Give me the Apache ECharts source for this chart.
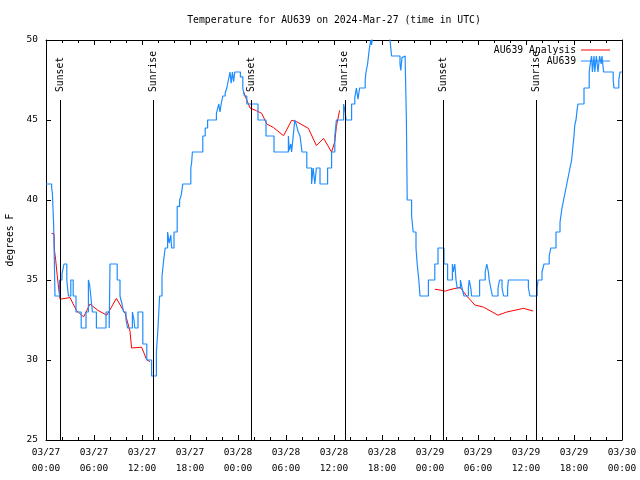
<!DOCTYPE html>
<html><head><meta charset="utf-8">
<script src="https://cdn.jsdelivr.net/npm/echarts@6/dist/echarts.min.js"></script>
<style>html,body{margin:0;padding:0;background:#fff}#c{width:640px;height:480px}</style>
</head><body><div id="c"></div>
<script>
const titleText = 'Temperature for AU639 on 2024-Mar-27 (time in UTC)';
const yName = 'degrees F';
const dayLabels = ['03/27','03/28','03/29','03/30'];
const hourLabels = ['00:00','06:00','12:00','18:00'];
const seriesNames = ['AU639 Analysis','AU639'];

// Sunrise / sunset (hours since 03/27 00:00 UTC)
const sunHours = [1.83, 13.4, 25.7, 37.35, 49.67, 61.3];
const sunNames = ['Sunset','Sunrise','Sunset','Sunrise','Sunset','Sunrise'];

// AU639 Analysis (hours, degrees F); null breaks segments
const anaHours = [0.7,1.0,1.05,1.2,1.4,1.6,1.75,3.0,3.8,4.7,5.5,6.5,7.6,8.8,9.9,10.5,10.7,11.95,12.6,13.0,
  null,
  24.7,25.5,25.7,26.3,26.96,27.6,28.4,29.7,30.7,31.3,32.8,33.8,34.7,35.7,36.1,36.3,36.7,
  null,
  48.6,49.25,49.9,50.5,51.75,52.6,53.6,54.7,55.5,56.5,57.6,59.7,60.9];
const anaTemps = [37.9,37.9,36.9,36.3,35.3,34.4,33.8,33.9,33.1,32.7,33.5,33.1,32.8,33.85,32.9,31.8,30.75,30.8,30.0,29.9,
  null,
  46.75,45.75,45.67,45.58,45.42,44.75,44.54,44.02,44.98,44.9,44.48,43.4,43.85,43.0,43.65,44.6,45.6,
  null,
  34.42,34.375,34.3,34.4,34.54,34.0,33.44,33.3,33.08,32.8,33.0,33.23,33.06];

// AU639 observations (hours, degrees F), each value holds until the next one
const obsHours = [0,0.7,0.8,0.95,1.05,1.12,1.7,2.0,2.25,2.6,2.8,3.1,3.4,3.75,4.4,5.0,5.3,5.45,5.6,5.8,6.3,7.5,7.9,8.0,8.9,9.25,9.5,9.7,10.0,10.2,10.8,11.0,11.1,11.5,12.1,12.6,13.2,13.8,14.0,14.2,14.5,14.7,14.9,15.2,15.4,15.6,15.7,16.0,16.4,16.7,16.9,17.1,18.1,18.2,18.3,19.6,19.9,20.2,21.3,21.5,21.6,21.75,21.9,22.1,22.4,22.6,22.8,23.0,23.15,23.3,23.45,23.6,24.3,24.6,24.8,25.1,26.5,27.5,28.5,30.3,30.4,30.6,30.7,30.9,31.1,31.3,31.5,31.75,32.0,32.6,33.2,33.4,33.6,33.8,34.25,35.2,35.7,36.1,36.3,37.2,37.4,37.5,38.2,38.6,38.8,39.0,39.2,39.9,40.0,40.2,40.4,40.6,40.7,40.9,41.1,43.0,43.2,44.25,44.35,44.5,44.6,44.9,45.05,45.15,45.7,45.9,46.25,46.4,46.6,46.75,47.8,48.6,49.0,49.75,50.2,50.8,50.9,51.1,51.25,51.4,51.8,52.0,52.25,52.8,52.9,53.1,53.2,54.2,54.9,55.1,55.3,55.4,55.6,55.8,56.5,56.7,57.0,57.2,57.7,57.8,60.3,60.5,61.4,61.5,62.0,62.25,62.9,63.1,63.75,64.25,64.5,64.7,64.9,65.1,65.3,65.5,65.7,65.8,66.0,66.1,66.25,66.4,66.5,67.25,67.9,68.05,68.2,68.3,68.5,68.6,68.8,69.0,69.2,69.4,69.5,69.7,70.9,71.0,71.6,71.75,72];
const obsTemps = [41,40.8,40.4,38.5,36,34,35,35.4,36,35,34,35,34,33,32,33,35,34.7,34,33,32,33,32,36,35,34,33.5,33,32.5,32,33,32.5,32,33,31,30,29,30.5,32,34,35.2,36.2,37,38,37.3,37.8,37,38,39.6,40,40.3,41,42,42.3,43,44,44.5,45,45.4,45.8,46,45.5,46,46.5,46.7,47,47.5,48,47.3,48,47.4,48,47.7,47,46.5,46,45,44,43,44,43.1,43.5,43,44,45,44.7,44.3,44,43,42,41,42,41,42,41,42,43,44,45,46,45.5,45,46,46.4,47,46.3,47,47.5,48,48.5,49.4,50,49.7,50.5,51,50,49,48.5,48.1,48.9,49,48.7,45,40,39,38,37,36,35,34,35,36,37,36,35,36,35.5,36,35,34.5,35,34.5,34,34.5,35,34.5,34,35,35.5,36,35.5,35,34.5,34,34.5,35,34.5,34,34.5,35,34.5,34,34.5,35,35.5,36,36.5,37,38,38.6,39.5,40,40.5,41,41.5,42,42.5,43,44,44.7,45,45.7,46,47,48,48.6,49,48,49,48,49,48,49,48.5,49,48,47.5,47,47.5,48,48];

const FONT = 'DejaVu Sans Mono';
const RED = '#ff0000';
const BLUE = '#1e8cff';

const anaData = anaHours.map((h, i) => (h === null ? '-' : [h, anaTemps[i]]));
const obsData = obsHours.map((h, i) => [h, obsTemps[i]]);

const axisCommon = {
  type: 'value',
  axisLine: { show: true, onZero: false, lineStyle: { color: '#000', width: 1 } },
  splitLine: { show: false },
};

const chart = echarts.init(document.getElementById('c'), null, { renderer: 'canvas' });
chart.setOption({
  animation: false,
  backgroundColor: '#fff',
  grid: { left: 46, right: 18, top: 40, bottom: 40, containLabel: false, outerBoundsMode: 'none' },
  graphic: [{
    type: 'text',
    style: { text: titleText, x: 334, y: 20, textAlign: 'center', textVerticalAlign: 'middle',
      font: '9.75px "' + FONT + '"', fill: '#000' }
  }],
  legend: [
    { data: [{ name: seriesNames[0], icon: 'rect' }], right: 30, top: 45, padding: 0, align: 'right',
      itemWidth: 29, itemHeight: 1, selectedMode: false,
      textStyle: { fontFamily: FONT, fontSize: 9.75, color: '#000' } },
    { data: [{ name: seriesNames[1], icon: 'rect' }], right: 30, top: 56, padding: 0, align: 'right',
      itemWidth: 29, itemHeight: 1, selectedMode: false,
      textStyle: { fontFamily: FONT, fontSize: 9.75, color: '#000' } }
  ],
  xAxis: [
    Object.assign({}, axisCommon, {
      position: 'bottom', min: 0, max: 72, interval: 6,
      axisTick: { show: true, inside: true, length: 5, lineStyle: { color: '#000' } },
      minorTick: { show: true, splitNumber: 3, length: 3, lineStyle: { color: '#000' } },
      axisLabel: {
        margin: 5, fontFamily: FONT, fontSize: 9.5, color: '#000', lineHeight: 16,
        formatter: v => dayLabels[Math.floor(v / 24)] + '\n' + hourLabels[(v % 24) / 6]
      }
    }),
    Object.assign({}, axisCommon, {
      position: 'top', min: 0, max: 72, interval: 6,
      axisTick: { show: true, inside: true, length: 5, lineStyle: { color: '#000' } },
      minorTick: { show: true, splitNumber: 3, length: 3, lineStyle: { color: '#000' } },
      axisLabel: { show: false }
    })
  ],
  yAxis: [
    Object.assign({}, axisCommon, {
      position: 'left', min: 25, max: 50, interval: 5,
      axisTick: { show: true, inside: true, length: 5, lineStyle: { color: '#000' } },
      axisLabel: { margin: 8, fontFamily: FONT, fontSize: 9.5, color: '#000' },
      name: yName, nameLocation: 'middle', nameGap: 31, nameRotate: 90,
      nameTextStyle: { fontFamily: FONT, fontSize: 9.75, color: '#000' }
    }),
    Object.assign({}, axisCommon, {
      position: 'right', min: 25, max: 50, interval: 5,
      axisTick: { show: true, inside: true, length: 5, lineStyle: { color: '#000' } },
      axisLabel: { show: false }
    })
  ],
  series: [
    {
      name: 'sun', type: 'scatter', xAxisIndex: 0, yAxisIndex: 0, silent: true,
      symbolSize: 1, itemStyle: { color: 'rgba(0,0,0,0)' },
      data: sunHours.map((h, i) => ({ value: [h, 46.75], name: sunNames[i] })),
      label: { show: true, formatter: '{b}', position: 'inside', align: 'left', verticalAlign: 'middle',
        rotate: 90, fontFamily: FONT, fontSize: 9.75, color: '#000', opacity: 1 },
      markLine: {
        silent: true, symbol: ['none', 'none'], label: { show: false },
        lineStyle: { color: '#000', width: 1, type: 'solid' },
        data: sunHours.map(h => [{ coord: [h, 25] }, { coord: [h, 46.25] }])
      }
    },
    {
      name: seriesNames[0], type: 'line', xAxisIndex: 0, yAxisIndex: 0, showSymbol: false, symbol: 'none',
      connectNulls: false, data: anaData, color: RED,
      lineStyle: { color: RED, width: 1 }
    },
    {
      name: seriesNames[1], type: 'line', xAxisIndex: 0, yAxisIndex: 0, showSymbol: false, symbol: 'none',
      step: 'end', data: obsData, color: BLUE, clip: true,
      lineStyle: { color: BLUE, width: 1.2 }
    }
  ]
});
</script>
</body></html>
